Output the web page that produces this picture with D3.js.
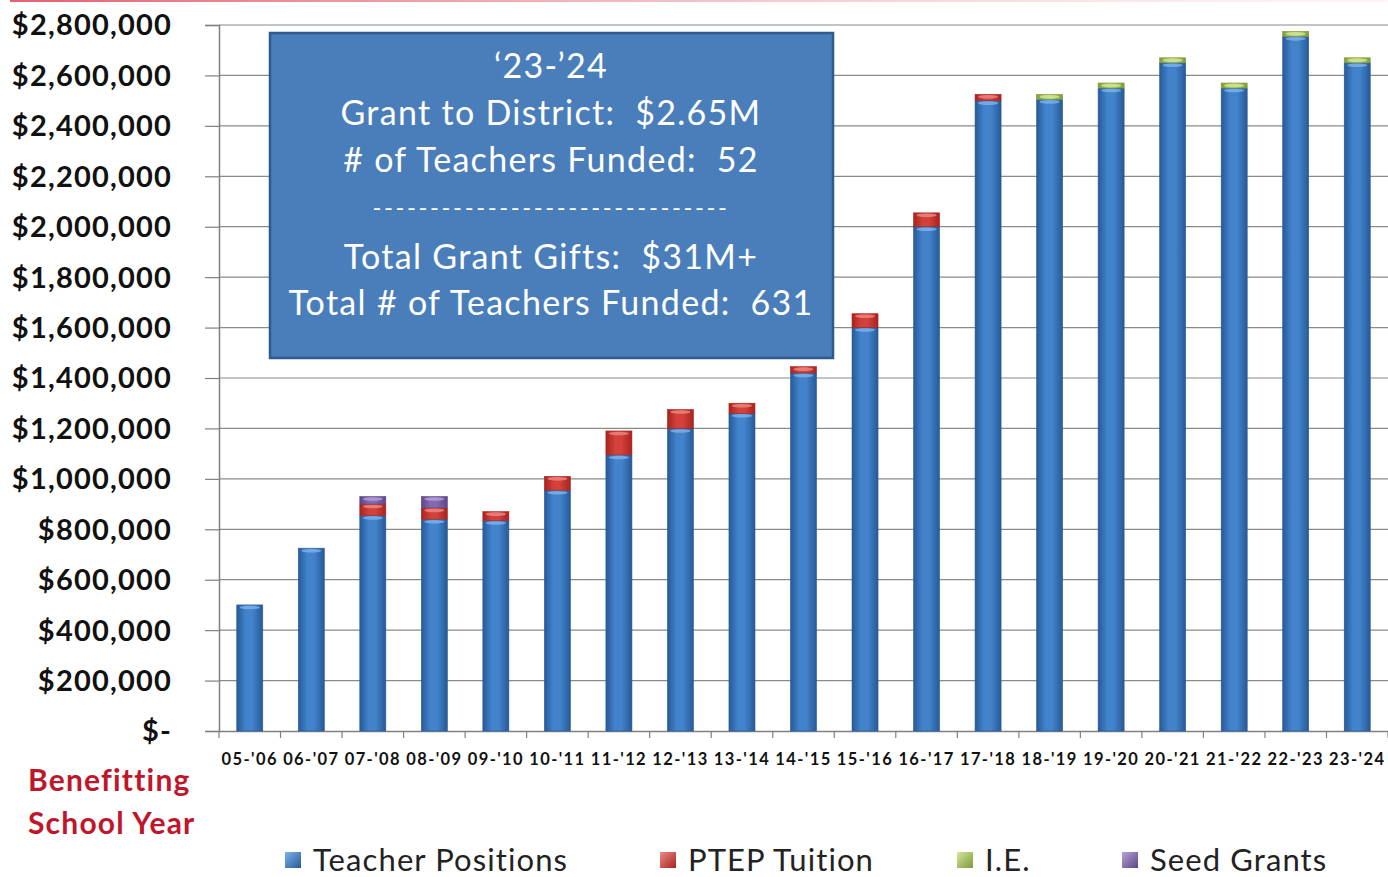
<!DOCTYPE html>
<html><head><meta charset="utf-8">
<script src="https://cdn.jsdelivr.net/npm/d3@7"></script>
<style>
html,body{margin:0;padding:0;background:#fff;}
svg{display:block;font-family:Lato,"Open Sans",sans-serif;}
text{white-space:pre;}
</style></head>
<body>
<svg id="chart" width="1388" height="877"></svg>
<script>
// ---- data ----
const categories = ["05-'06","06-'07","07-'08","08-'09","09-'10","10-'11","11-'12","12-'13","13-'14","14-'15","15-'16","16-'17","17-'18","18-'19","19-'20","20-'21","21-'22","22-'23","23-'24"];
const teacherPositions = [500000,725000,855000,840000,835000,955000,1095000,1200000,1260000,1420000,1600000,2000000,2500000,2505000,2550000,2650000,2550000,2755000,2650000];
const ptepTuition      = [0,0,45000,45000,35000,55000,95000,75000,40000,25000,55000,55000,25000,0,0,0,0,0,0];
const ie               = [0,0,0,0,0,0,0,0,0,0,0,0,0,20000,20000,20000,20000,20000,20000];
const seedGrants       = [0,0,30000,45000,0,0,0,0,0,0,0,0,0,0,0,0,0,0,0];
const seriesNames = ["Teacher Positions","PTEP Tuition","I.E.","Seed Grants"];
const yTicks = [0,200000,400000,600000,800000,1000000,1200000,1400000,1600000,1800000,2000000,2200000,2400000,2600000,2800000];
const infoLines = ["\u201823-\u201924","Grant to District:  $2.65M","# of Teachers Funded:  52","-------------------------------","Total Grant Gifts:  $31M+","Total # of Teachers Funded:  631"];
const axisTitle = ["Benefitting","School Year"];

const seriesValues = [teacherPositions, ptepTuition, ie, seedGrants];
const colors = [
  {dark:"#275a98", mid:"#4283cc", light:"#7fb3ea"},
  {dark:"#a8231f", mid:"#d2413a", light:"#ec8a84"},
  {dark:"#7f9a3a", mid:"#a8c65c", light:"#d2e89c"},
  {dark:"#5d4686", mid:"#8468b0", light:"#b7a2d8"}
];

const svg = d3.select("#chart");
const defs = svg.append("defs");
colors.forEach((c,i)=>{
  const g = defs.append("linearGradient").attr("id","g"+i).attr("x1","0").attr("x2","1").attr("y1","0").attr("y2","0");
  g.append("stop").attr("offset","0%").attr("stop-color",c.dark);
  g.append("stop").attr("offset","35%").attr("stop-color",c.mid);
  g.append("stop").attr("offset","60%").attr("stop-color",c.mid);
  g.append("stop").attr("offset","100%").attr("stop-color",c.dark);
  const lg = defs.append("linearGradient").attr("id","lg"+i).attr("x1","0").attr("x2","1").attr("y1","0").attr("y2","1");
  lg.append("stop").attr("offset","0%").attr("stop-color",c.light);
  lg.append("stop").attr("offset","100%").attr("stop-color",c.dark);
});
const tg = defs.append("linearGradient").attr("id","topline").attr("x1","0").attr("x2","1");
tg.append("stop").attr("offset","0%").attr("stop-color","#e05060").attr("stop-opacity",0.9);
tg.append("stop").attr("offset","60%").attr("stop-color","#f0a0a8").attr("stop-opacity",0.5);
tg.append("stop").attr("offset","100%").attr("stop-color","#f8d0d4").attr("stop-opacity",0.2);
svg.append("rect").attr("x",10).attr("y",0).attr("width",1378).attr("height",2).attr("fill","url(#topline)");

const plotL = 219, plotR = 1388, plotT = 25, plotB = 731;
const x = d3.scaleBand().domain(categories).range([plotL,plotR]).paddingInner(0.577).paddingOuter(0.2885);
const y = d3.scaleLinear().domain([0,2800000]).range([plotB,plotT]);

// gridlines
svg.append("g").selectAll("line").data(yTicks.filter(d=>d>0)).join("line")
  .attr("x1",plotL).attr("x2",plotR).attr("y1",d=>y(d)).attr("y2",d=>y(d))
  .attr("stroke","#8a8a8a").attr("stroke-width",1.2);

// y axis
const yAxis = svg.append("g").attr("transform",`translate(${plotL},0)`)
  .call(d3.axisLeft(y).tickValues(yTicks).tickSize(14).tickPadding(33)
    .tickFormat(d=> d===0 ? "$-" : "$"+d3.format(",")(d)));
yAxis.select(".domain").attr("stroke","#808080").attr("stroke-width",1.5);
yAxis.selectAll(".tick line").attr("stroke","#808080").attr("stroke-width",1.2);
yAxis.selectAll("text").attr("fill","#111").attr("font-size",29).attr("font-weight",700).attr("font-family","Lato")
  .attr("letter-spacing","1.2").attr("dy","0.34em");

// x axis
const xAxis = svg.append("g").attr("transform",`translate(0,${plotB})`)
  .call(d3.axisBottom(x).tickSize(0).tickPadding(22));
xAxis.select(".domain").attr("stroke","#808080").attr("stroke-width",1.5);
xAxis.selectAll("text").attr("fill","#111").attr("font-size",16.5).attr("font-weight",700).attr("font-family","Lato").attr("letter-spacing","1.4");
const boundaries = d3.range(categories.length+1).map(i=> plotL + i*x.step());
svg.append("g").selectAll("line").data(boundaries).join("line")
  .attr("x1",d=>d).attr("x2",d=>d).attr("y1",plotB).attr("y2",plotB+7)
  .attr("stroke","#808080").attr("stroke-width",1.2);

// stacked bars
const stackData = categories.map((c,i)=>{
  const o = {cat:c}; seriesNames.forEach((s,k)=>o[s]=seriesValues[k][i]); return o;
});
const stacked = d3.stack().keys(seriesNames)(stackData);
const bw = x.bandwidth();
stacked.forEach((layer,k)=>{
  const g = svg.append("g");
  g.selectAll("rect").data(layer.filter(d=>d[1]-d[0]>0)).join("rect")
    .attr("x",d=>x(d.data.cat)).attr("width",bw)
    .attr("y",d=>y(d[1])).attr("height",d=>y(d[0])-y(d[1]))
    .attr("fill",`url(#g${k})`).attr("stroke",colors[k].dark).attr("stroke-width",0.6);
  g.selectAll("ellipse").data(layer.filter(d=>d[1]-d[0]>0)).join("ellipse")
    .attr("cx",d=>x(d.data.cat)+bw/2).attr("cy",d=>y(d[1])+2.5)
    .attr("rx",bw/2-3).attr("ry",1.8).attr("fill",colors[k].light).attr("opacity",0.8);
});

// info box
const box = svg.append("g");
box.append("rect").attr("x",270).attr("y",33).attr("width",563).attr("height",325)
  .attr("fill","#4a7ebb").attr("stroke","#2f5a8e").attr("stroke-width",2.5);
const lineY = [78,125,172,216,269,315];
box.selectAll("text").data(infoLines).join("text")
  .attr("x",551).attr("y",(d,i)=>lineY[i]).attr("text-anchor","middle")
  .attr("fill","#fff").attr("font-size",(d,i)=> i===3 ? 24 : 34).attr("font-family","Lato")
  .attr("letter-spacing",(d,i)=> i===3 ? 2.6 : 1.3)
  .text(d=>d);

// axis title
svg.append("g").selectAll("text").data(axisTitle).join("text")
  .attr("x",28).attr("y",(d,i)=>791+i*43).attr("fill","#c0162c")
  .attr("font-size",30).attr("font-weight",700).attr("font-family","Lato").attr("letter-spacing","1.2").text(d=>d);

// legend
const legendX = [285,660,957,1122];
const leg = svg.append("g").selectAll("g").data(seriesNames).join("g")
  .attr("transform",(d,i)=>`translate(${legendX[i]},852)`);
leg.append("rect").attr("width",16).attr("height",16).attr("fill",(d,i)=>`url(#lg${i})`);
leg.append("text").attr("x",28).attr("y",19).attr("font-size",31).attr("letter-spacing","1.1").attr("fill","#222").attr("font-family","Lato").text(d=>d);
</script>
</body></html>
